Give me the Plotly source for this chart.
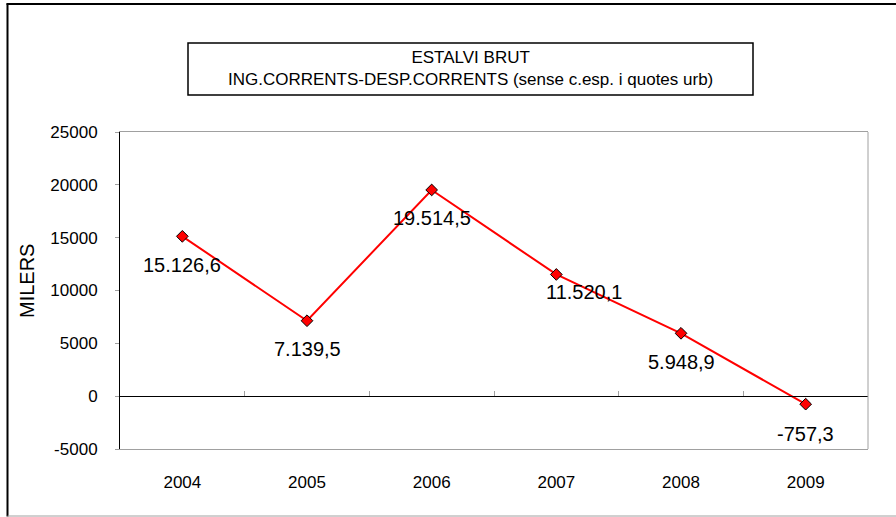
import plotly.graph_objects as go

# ---- data ----
years = ["2004", "2005", "2006", "2007", "2008", "2009"]
estalvi_brut = [15126.6, 7139.5, 19514.5, 11520.1, 5948.9, -757.3]
y_tick_vals = [-5000, 0, 5000, 10000, 15000, 20000, 25000]
y_tick_text = ["-5000", "0", "5000", "10000", "15000", "20000", "25000"]
title_lines = ["ESTALVI BRUT", "ING.CORRENTS-DESP.CORRENTS (sense c.esp. i quotes urb)"]
y_title = "MILERS"

# label offsets (pixels) per point
label_dx = [0, 0, 0, 28, 0, 0]
label_dy = [-29, -28, -28, -18, -29, -30]

W, H = 896, 517
L, R, T, B = 120, 868, 132, 449
FONT = "Liberation Sans, Arial, sans-serif"


def px(x):
    return (x - L) / (R - L)


def py(y):
    return (B - y) / (B - T)


def fmt(v):
    s = f"{abs(v):,.1f}".replace(",", "X").replace(".", ",").replace("X", ".")
    return ("-" if v < 0 else "") + s


ymin, ymax = y_tick_vals[0], y_tick_vals[-1]
zero_pos = (0 - ymin) / (ymax - ymin)

fig = go.Figure()
fig.add_trace(go.Scatter(
    x=years, y=estalvi_brut, mode="lines+markers",
    line=dict(color="#FF0000", width=2),
    marker=dict(symbol="diamond", size=9, color="#FF0000",
                line=dict(color="black", width=1)),
    showlegend=False, hoverinfo="skip", xaxis="x", yaxis="y",
))
# invisible trace to activate the zero-crossing category axis
fig.add_trace(go.Scatter(
    x=years, y=estalvi_brut, mode="lines", line=dict(width=0),
    opacity=0, showlegend=False, hoverinfo="skip", xaxis="x2", yaxis="y",
))

annotations = []
for i, (v, dx, dy) in enumerate(zip(estalvi_brut, label_dx, label_dy)):
    annotations.append(dict(
        x=i, y=v, xref="x", yref="y", text=fmt(v), showarrow=False,
        xshift=dx, yshift=dy, font=dict(family=FONT, size=20, color="black"),
        xanchor="center", yanchor="middle",
    ))

annotations.append(dict(
    x=px(470.5), y=py(69), xref="paper", yref="paper",
    text="<br>".join(title_lines), showarrow=False,
    font=dict(family=FONT, size=17, color="black"),
    xanchor="center", yanchor="middle", align="center",
))
annotations.append(dict(
    x=px(27), y=py(281), xref="paper", yref="paper", text=y_title,
    textangle=-90, showarrow=False,
    font=dict(family=FONT, size=20, color="black"),
    xanchor="center", yanchor="middle",
))

shapes = [
    # outer chart frame
    dict(type="line", xref="paper", yref="paper", x0=px(7.5), x1=px(7.5),
         y0=py(3.5), y1=py(516.5), line=dict(color="black", width=2)),
    dict(type="line", xref="paper", yref="paper", x0=px(6.5), x1=px(896),
         y0=py(4), y1=py(4), line=dict(color="black", width=2)),
    dict(type="line", xref="paper", yref="paper", x0=px(7.5), x1=px(896),
         y0=py(516), y1=py(516), line=dict(color="#A0A0A0", width=1)),
    # title box
    dict(type="rect", xref="paper", yref="paper", x0=px(188), x1=px(753),
         y0=py(95), y1=py(43), line=dict(color="black", width=1.5)),
    # right border of plot area
    dict(type="line", xref="paper", yref="paper", x0=1, x1=1, y0=0, y1=1,
         line=dict(color="#A0A0A0", width=1)),
]

fig.update_layout(
    width=W, height=H,
    margin=dict(l=L, r=W - R, t=T, b=H - B, pad=0),
    paper_bgcolor="white", plot_bgcolor="white",
    font=dict(family=FONT, size=17, color="black"),
    showlegend=False,
    xaxis=dict(
        type="category", range=[-0.5, 5.5], showgrid=False, zeroline=False,
        showline=True, linecolor="#A0A0A0", linewidth=1, mirror=True,
        ticks="", ticklabelstandoff=18,
        tickfont=dict(family=FONT, size=17, color="black"),
    ),
    xaxis2=dict(
        type="category", range=[-0.5, 5.5], overlaying="x", anchor="free",
        position=zero_pos, side="bottom", showgrid=False, zeroline=False,
        showline=True, linecolor="black", linewidth=1,
        ticks="inside", tickson="boundaries", ticklen=5, tickcolor="#A0A0A0",
        showticklabels=False,
    ),
    yaxis=dict(
        range=[ymin, ymax], tickvals=y_tick_vals, ticktext=y_tick_text,
        showgrid=False, zeroline=False, showline=True, linecolor="black",
        linewidth=1, ticks="outside", ticklen=4, tickcolor="#A0A0A0",
        ticklabelstandoff=14,
        tickfont=dict(family=FONT, size=17, color="black"),
    ),
    annotations=annotations,
    shapes=shapes,
)

fig.write_html(
    "out.html",
    config={"displayModeBar": False, "staticPlot": True},
    post_script="document.body.style.margin='0px';document.body.style.overflow='hidden';",
)
